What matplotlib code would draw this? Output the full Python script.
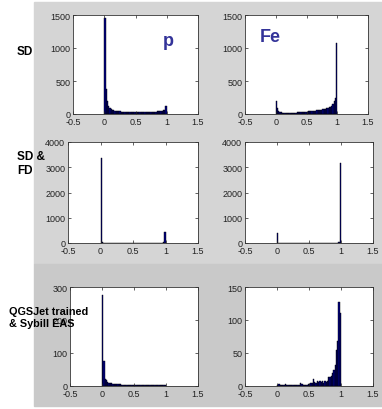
import numpy as np
import matplotlib.pyplot as plt

plt.rcParams['font.family'] = ['Liberation Sans', 'DejaVu Sans']

# bin centres of the histograms (50 bins over 0..1)
centres = np.arange(0.01, 1.0, 0.02)

p_sd = [1450, 380, 200, 120, 85, 70, 60, 55, 50, 45,
        42, 40, 38, 35, 33, 32, 30, 30, 28, 28,
        27, 26, 26, 25, 25, 25, 24, 24, 24, 25,
        25, 26, 26, 27, 28, 28, 30, 30, 32, 33,
        35, 36, 38, 40, 42, 45, 50, 55, 65, 120]
fe_sd = [200, 90, 50, 35, 28, 22, 20, 18, 18, 18,
         18, 18, 19, 20, 20, 21, 22, 23, 24, 25,
         26, 28, 30, 32, 34, 36, 38, 40, 42, 45,
         48, 50, 52, 55, 58, 60, 63, 66, 70, 75,
         80, 85, 90, 100, 110, 125, 150, 190, 250, 1080]
p_sdfd = [3350, 20, 10, 8, 6, 5, 5, 4, 4, 4,
          3, 3, 3, 3, 3, 3, 3, 3, 3, 3,
          3, 3, 3, 3, 3, 3, 3, 3, 3, 3,
          3, 3, 3, 3, 3, 3, 3, 3, 4, 4,
          4, 4, 5, 5, 6, 8, 10, 15, 30, 420]
fe_sdfd = [380, 15, 8, 5, 4, 4, 3, 3, 3, 3,
           3, 3, 3, 3, 3, 3, 3, 3, 3, 3,
           3, 3, 3, 3, 3, 3, 3, 3, 3, 3,
           3, 3, 3, 3, 4, 4, 4, 4, 5, 5,
           6, 6, 7, 8, 9, 10, 12, 15, 25, 3150]
p_mix = [275, 75, 22, 18, 12, 10, 9, 8, 7, 7,
         6, 6, 5, 5, 5, 4, 4, 4, 4, 4,
         3, 3, 3, 3, 3, 3, 4, 3, 3, 4,
         3, 4, 3, 3, 3, 3, 4, 3, 3, 3,
         4, 4, 3, 3, 3, 3, 3, 3, 3, 4]
fe_mix = [2, 3, 2, 1, 1, 2, 3, 1, 1, 1,
          1, 1, 1, 2, 1, 1, 1, 1, 4, 3,
          2, 1, 2, 2, 3, 3, 4, 5, 10, 6,
          5, 7, 6, 7, 6, 8, 5, 8, 6, 8,
          14, 14, 15, 20, 25, 32, 55, 68, 128, 110]

xticks = [-0.5, 0, 0.5, 1, 1.5]
xticklabels = ['-0.5', '0', '0.5', '1', '1.5']

row_labels = ['SD', 'SD &\nFD', 'QGSJet trained\n& Sybill EAS']

W, H = 382, 410
fig = plt.figure(figsize=(W / 100, H / 100), dpi=100)
fig.patch.set_facecolor('white')

# grey panels behind the plots
fig.patches.append(plt.Rectangle((34 / W, (H - 265) / H), (W - 34) / W, 262 / H,
                                 transform=fig.transFigure, color='#d5d5d5', zorder=-10))
fig.patches.append(plt.Rectangle((34 / W, (H - 407) / H), (W - 34) / W, 142 / H,
                                 transform=fig.transFigure, color='#c9c9c9', zorder=-10))

# pixel boxes: (left, right, top, bottom)
boxes = [
    [(73, 198, 16, 115), (245, 368, 16, 115)],
    [(68, 198, 143, 244), (245, 373, 143, 244)],
    [(70, 198, 288, 387), (245, 373, 288, 387)],
]
data = [[p_sd, fe_sd], [p_sdfd, fe_sdfd], [p_mix, fe_mix]]
ylims = [[1500, 1500], [4000, 4000], [300, 150]]
yticks = [[[0, 500, 1000, 1500]] * 2,
          [[0, 1000, 2000, 3000, 4000]] * 2,
          [[0, 100, 200, 300], [0, 50, 100, 150]]]

for r in range(3):
    for c in range(2):
        l, rt, t, b = boxes[r][c]
        ax = fig.add_axes([l / W, (H - b) / H, (rt - l) / W, (b - t) / H])
        ax.set_facecolor('white')
        ax.bar(centres, data[r][c], width=0.02, color='#000080',
               edgecolor='black', linewidth=0.3)
        ax.set_xlim(-0.5, 1.5)
        ax.set_ylim(0, ylims[r][c])
        ax.set_xticks(xticks)
        ax.set_xticklabels(xticklabels)
        ax.set_yticks(yticks[r][c])
        ax.tick_params(direction='in', length=2, width=0.5, labelsize=6.5,
                       top=True, right=True, pad=2, colors='#222222')
        for s in ax.spines.values():
            s.set_linewidth(0.6)
            s.set_color('#333333')

fig.text(163 / W, 1 - 42 / H, 'p', fontsize=13, fontweight='bold',
         color='#333399', va='center')
fig.text(260 / W, 1 - 37 / H, 'Fe', fontsize=13, fontweight='bold',
         color='#333399', va='center')

fig.text(17 / W, 1 - 52 / H, row_labels[0], fontsize=8.5, fontweight='bold',
         va='center', ha='left')
fig.text(17 / W, 1 - 164 / H, row_labels[1], fontsize=8.5, fontweight='bold',
         va='center', ha='left', linespacing=1.3)
fig.text(9 / W, 1 - 318 / H, row_labels[2], fontsize=7.8, fontweight='bold',
         va='center', ha='left', linespacing=1.15)

fig.savefig('out.png', dpi=100)
